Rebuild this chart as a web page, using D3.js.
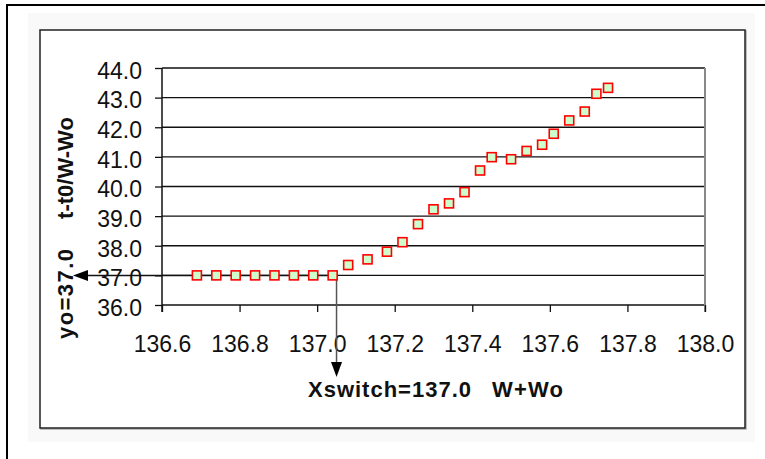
<!DOCTYPE html>
<html lang="en">
<head>
  <meta charset="UTF-8">
  <title>Xswitch chart</title>
  <script src="https://cdn.jsdelivr.net/npm/d3@7/dist/d3.min.js"></script>
<style>
  body { margin: 0; background: #fff; }
  text { font-family: "Liberation Sans", Arial, sans-serif; }
</style>
</head>

<body>
  <script>
    // data
    var xVals = [136.69, 136.74, 136.79, 136.84, 136.89, 136.94, 136.99, 137.04,
                 137.08, 137.13, 137.18, 137.22, 137.26, 137.30, 137.34, 137.38,
                 137.42, 137.45, 137.50, 137.54, 137.58, 137.61, 137.65, 137.69,
                 137.72, 137.75];
    var yVals = [37.0, 37.0, 37.0, 37.0, 37.0, 37.0, 37.0, 37.0,
                 37.35, 37.54, 37.80, 38.12, 38.73, 39.23, 39.43, 39.81,
                 40.54, 40.99, 40.92, 41.20, 41.41, 41.78, 42.23, 42.53,
                 43.13, 43.33];
    var xTicks = [136.6, 136.8, 137.0, 137.2, 137.4, 137.6, 137.8, 138.0];
    var yTicks = [36, 37, 38, 39, 40, 41, 42, 43, 44];
    var xSwitch = 137.05;
    var yZero = 37.0;
    var xTitle = 'Xswitch=137.0';
    var xUnit = 'W+Wo';
    var yTitle = 't-t0/W-Wo';
    var yZeroLabel = 'yo=37.0';

    var w = 765;
    var h = 459;

    var svg = d3.select('body')
                .append('svg')
                .attr('width', w)
                .attr('height', h);

    var x = d3.scaleLinear().domain([136.6, 138.0]).range([162, 705]);
    var y = d3.scaleLinear().domain([36, 44]).range([305, 68]);

    // faint backdrop + frames
    svg.append('rect').attr('x', 28).attr('y', 13).attr('width', 727).attr('height', 429)
      .attr('fill', '#f9f9f9');
    svg.append('path').attr('d', 'M7,' + h + 'V5H' + w)
      .attr('fill', 'none').attr('stroke', '#000').attr('stroke-width', 2);
    svg.append('rect').attr('x', 41).attr('y', 31).attr('width', 705).attr('height', 398)
      .attr('fill', 'none').attr('stroke', '#aaa').attr('stroke-width', 1.5);
    svg.append('rect').attr('x', 40).attr('y', 30).attr('width', 705).attr('height', 398)
      .attr('fill', '#fff').attr('stroke', '#222').attr('stroke-width', 1.5);

    // gridlines
    svg.append('g').selectAll('line')
      .data(yTicks)
      .enter()
      .append('line')
      .attr('x1', 162).attr('x2', 705)
      .attr('y1', d => y(d)).attr('y2', d => y(d))
      .attr('stroke', '#111').attr('stroke-width', 1.3);

    // right plot border (grey)
    svg.append('line')
      .attr('x1', 705).attr('x2', 705).attr('y1', y(44)).attr('y2', y(36) + 7)
      .attr('stroke', '#888').attr('stroke-width', 2);

    // y axis
    var yAxis = svg.append('g')
      .attr('transform', 'translate(162,0)')
      .call(d3.axisLeft(y).tickValues(yTicks).tickFormat(d3.format('.1f'))
            .tickSize(7).tickSizeOuter(0).tickPadding(13));
    yAxis.select('.domain').remove();
    yAxis.selectAll('line').attr('stroke', '#111').attr('stroke-width', 1.3);
    yAxis.selectAll('text').attr('font-size', '23px').attr('fill', '#111')
      .attr('dy', '0.45em').style('font-family', '"Liberation Sans", Arial, sans-serif');

    svg.append('line')
      .attr('x1', 162).attr('x2', 162).attr('y1', y(44)).attr('y2', y(36) + 7)
      .attr('stroke', '#111').attr('stroke-width', 1.5);

    // x axis
    var xAxis = svg.append('g')
      .attr('transform', 'translate(0,' + y(36) + ')')
      .call(d3.axisBottom(x).tickValues(xTicks).tickFormat(d3.format('.1f'))
            .tickSize(7).tickSizeOuter(0).tickPadding(24));
    xAxis.select('.domain').remove();
    xAxis.selectAll('line').attr('stroke', '#111').attr('stroke-width', 1.3);
    xAxis.selectAll('text').attr('font-size', '23px').attr('fill', '#111')
      .style('font-family', '"Liberation Sans", Arial, sans-serif');

    // annotation arrows
    var sx = x(xSwitch);
    var sy = y(yZero);
    svg.append('line')
      .attr('x1', sx).attr('x2', 80).attr('y1', sy).attr('y2', sy)
      .attr('stroke', '#111').attr('stroke-width', 1.5);
    svg.append('path')
      .attr('d', 'M73,' + sy + 'L88,' + (sy - 5.5) + 'L88,' + (sy + 5.5) + 'Z')
      .attr('fill', '#000');
    svg.append('line')
      .attr('x1', sx).attr('x2', sx).attr('y1', sy).attr('y2', 368)
      .attr('stroke', '#555').attr('stroke-width', 1.5);
    svg.append('path')
      .attr('d', 'M' + sx + ',377L' + (sx - 5.5) + ',362L' + (sx + 5.5) + ',362Z')
      .attr('fill', '#000');

    // markers
    svg.append('g').selectAll('rect')
      .data(xVals)
      .enter()
      .append('rect')
      .attr('x', d => x(d) - 4.5)
      .attr('y', (d, i) => y(yVals[i]) - 4.5)
      .attr('width', 9)
      .attr('height', 9)
      .attr('fill', '#ccffcc')
      .attr('stroke', '#ff0000')
      .attr('stroke-width', 1.6);

    // titles
    svg.append('text')
      .text(xTitle)
      .attr('x', 308).attr('y', 397)
      .attr('font-size', '22px').attr('font-weight', 'bold')
      .attr('textLength', 163).attr('lengthAdjust', 'spacing')
      .attr('fill', '#111');
    svg.append('text')
      .text(xUnit)
      .attr('x', 492).attr('y', 397)
      .attr('font-size', '22px').attr('font-weight', 'bold')
      .attr('textLength', 71).attr('lengthAdjust', 'spacing')
      .attr('fill', '#111');

    svg.append('text')
      .text(yTitle)
      .attr('transform', 'translate(73,168) rotate(-90)')
      .attr('text-anchor', 'middle')
      .attr('font-size', '22px').attr('font-weight', 'bold')
      .attr('fill', '#111');
    svg.append('text')
      .text(yZeroLabel)
      .attr('transform', 'translate(73,294) rotate(-90)')
      .attr('text-anchor', 'middle')
      .attr('font-size', '22px').attr('font-weight', 'bold')
      .attr('textLength', 90).attr('lengthAdjust', 'spacing')
      .attr('fill', '#111');
  </script>
</body>
</html>
